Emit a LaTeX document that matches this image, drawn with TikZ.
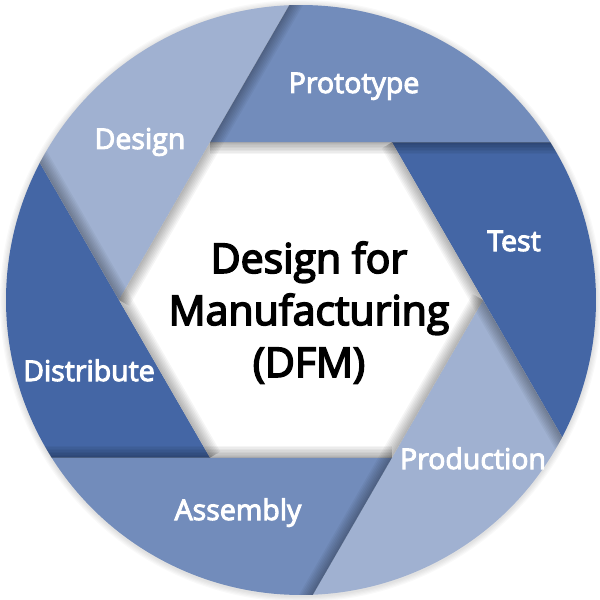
\documentclass[tikz,border=0pt]{standalone}
\usepackage{fontspec}
\setmainfont{Open Sans}
\newfontfamily\semib[FakeBold=3.5]{Open Sans}
\newfontfamily\midb[FakeBold=4]{Open Sans}
\usetikzlibrary{calc}
\definecolor{bllight}{HTML}{A0B1D1}
\definecolor{blmed}{HTML}{728CBB}
\definecolor{bldark}{HTML}{4466A5}
\begin{document}
\begin{tikzpicture}[x=1pt,y=1pt,
  lbl/.style={text=white,font=\semib\fontsize{28.5}{32}\selectfont,anchor=base,inner sep=0pt},
  ctr/.style={text=black,font=\midb\fontsize{41}{52}\selectfont,align=center,anchor=base,inner sep=0pt},
  shade/.style={black,opacity=0.04}]
\def\Rc{295}
\def\Rh{182}
\pgfmathsetmacro\hh{\Rh*cos(30)}
\pgfmathsetmacro\ss{\Rc*sqrt(1-(\hh/\Rc)^2)}
\pgfmathsetmacro\aa{atan(\ss/\hh)}
\fill[white] (-301,-300) rectangle (299,300);
\useasboundingbox (-301,-300) rectangle (299,300);
% soft outer shadow
\foreach \i in {1,...,5} \fill[black,opacity=0.025] (0,-1) circle (\Rc+\i*1.2);
% blades
\foreach \th/\col in {120/blmed,60/bldark,0/bllight,-60/blmed,-120/bldark,180/bllight}{
  \fill[\col] (\th:\Rh) -- ($(\th-30:\hh)+(\th-120:\ss)$)
     arc[start angle=\th-30-\aa, end angle=\th+30-\aa, radius=\Rc] -- cycle;
}
% central opening
\fill[white] (0:\Rh) -- (60:\Rh) -- (120:\Rh) -- (180:\Rh) -- (240:\Rh) -- (300:\Rh) -- cycle;
% shadows cast by each blade
\begin{scope}
\clip (0,0) circle (\Rc);
\foreach \th in {120,60,0,-60,-120,180}{
  \foreach \d in {1.5,3,...,12}{
    \fill[shade] (\th:\Rh) -- ($(\th-30:\hh)+(\th-120:\ss+20)$) -- ++(\th+150:\d)
       -- ($(\th:\Rh)+(\th+150:\d)$) -- cycle;
  }
}
\end{scope}
% labels
\node[lbl] (proto) at (53,207) {Prototype};
\node[lbl] (design) at (-161,151) {Design};
\node[lbl] (test) at (213,49) {Test};
\node[lbl] (distr) at (-212,-81) {Distribute};
\node[lbl] (prod) at (172,-169) {Production};
\node[lbl] (assem) at (-63,-220) {Assembly};
\node[ctr] (dfm) at (8,-77) {Design for\\Manufacturing\\(DFM)};
\end{tikzpicture}
\end{document}
